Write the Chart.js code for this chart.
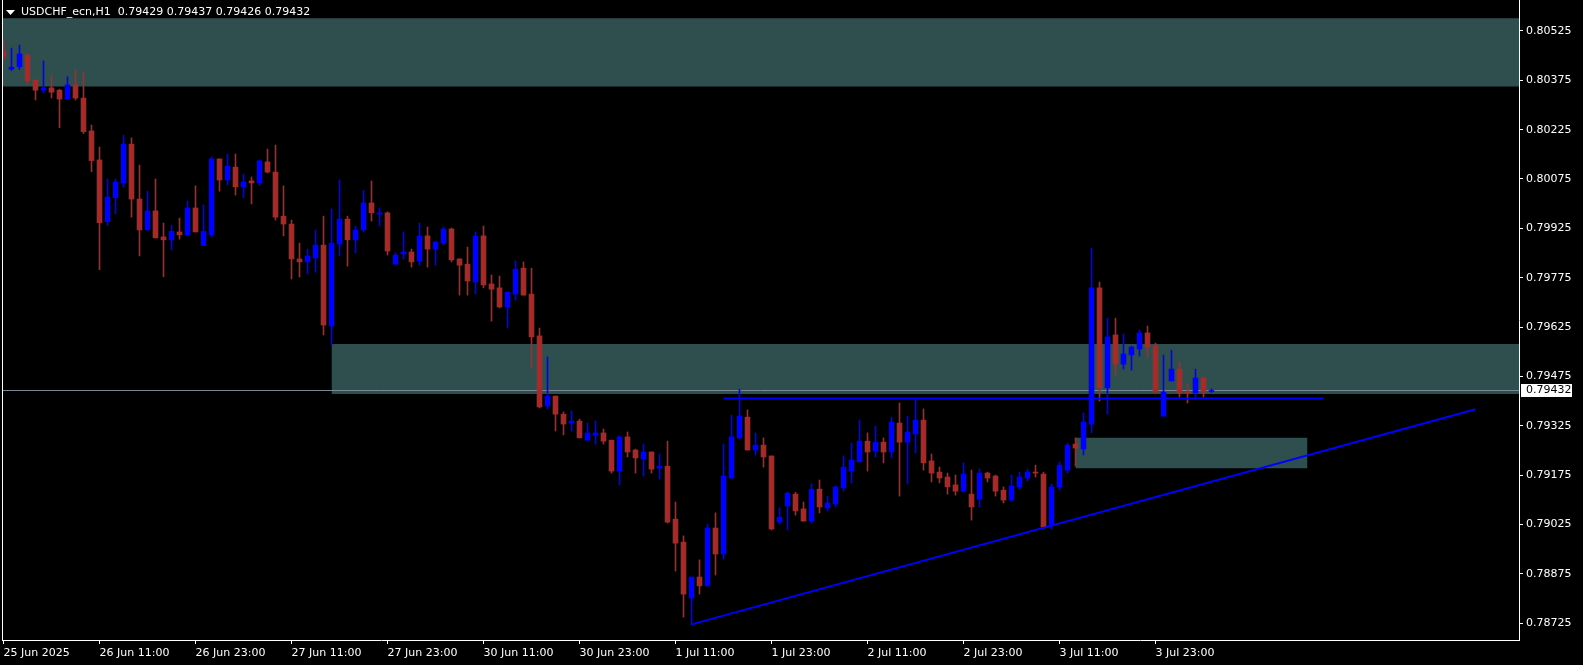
<!DOCTYPE html>
<html>
<head>
<meta charset="utf-8">
<title>USDCHF_ecn,H1</title>
<script src="https://cdn.jsdelivr.net/npm/chart.js@4/dist/chart.umd.min.js"></script>
<style>
  html, body { margin: 0; padding: 0; background: #000; overflow: hidden; }
  canvas { display: block; }
</style>
</head>
<body>
<canvas id="chart" width="1583" height="665"></canvas>
<script>
const symbolTitle = 'USDCHF_ecn,H1';

// bar index of each time label (H1 bars, weekend skipped)
const timeTickBars = [0, 12, 24, 36, 48, 60, 72, 84, 96, 108, 120, 132, 144];
const timeLabels = ['25 Jun 2025', '26 Jun 11:00', '26 Jun 23:00', '27 Jun 11:00', '27 Jun 23:00',
  '30 Jun 11:00', '30 Jun 23:00', '1 Jul 11:00', '1 Jul 23:00', '2 Jul 11:00', '2 Jul 23:00',
  '3 Jul 11:00', '3 Jul 23:00'];

const priceTicks = [0.80525, 0.80375, 0.80225, 0.80075, 0.79925, 0.79775, 0.79625,
  0.79475, 0.79325, 0.79175, 0.79025, 0.78875, 0.78725];

const opens = [
  0.80464, 0.80409, 0.80416, 0.80452, 0.80376, 0.80345, 0.80352, 0.80345, 0.80318, 0.80361, 0.80321, 0.80221,
  0.80133, 0.79945, 0.80018, 0.80063, 0.80181, 0.80014, 0.79921, 0.79978, 0.79899, 0.79890, 0.79914, 0.79905,
  0.79987, 0.79873, 0.79905, 0.80136, 0.80072, 0.80111, 0.80051, 0.80069, 0.80063, 0.80127, 0.80096, 0.79962,
  0.79938, 0.79832, 0.79823, 0.79835, 0.79874, 0.79628, 0.79877, 0.79953, 0.79890, 0.79920, 0.80002, 0.79968,
  0.79972, 0.79816, 0.79847, 0.79853, 0.79826, 0.79902, 0.79862, 0.79880, 0.79923, 0.79832, 0.79816, 0.79762,
  0.79902, 0.79756, 0.79744, 0.79686, 0.79725, 0.79804, 0.79725, 0.79598, 0.79385, 0.79415, 0.79360, 0.79333,
  0.79339, 0.79281, 0.79297, 0.79303, 0.79281, 0.79187, 0.79291, 0.79251, 0.79224, 0.79245, 0.79196, 0.79202,
  0.79041, 0.78971, 0.78801, 0.78865, 0.78838, 0.79014, 0.78935, 0.79166, 0.79288, 0.79351, 0.79251, 0.79266,
  0.79233, 0.79032, 0.79081, 0.79117, 0.79072, 0.79035, 0.79132, 0.79075, 0.79087, 0.79136, 0.79187, 0.79215,
  0.79278, 0.79248, 0.79275, 0.79245, 0.79333, 0.79275, 0.79300, 0.79342, 0.79218, 0.79184, 0.79169, 0.79145,
  0.79126, 0.79117, 0.79102, 0.79181, 0.79172, 0.79129, 0.79099, 0.79139, 0.79166, 0.79184, 0.79178, 0.79023,
  0.79139, 0.79190, 0.79269, 0.79254, 0.79330, 0.79744, 0.79440, 0.79601, 0.79512, 0.79540, 0.79558, 0.79607,
  0.79567, 0.79354, 0.79461, 0.79497, 0.79427, 0.79424, 0.79470, 0.79429
];
const highs = [
  0.80498, 0.80473, 0.80482, 0.80457, 0.80376, 0.80434, 0.80389, 0.80348, 0.80386, 0.80408, 0.80401, 0.80239,
  0.80172, 0.80075, 0.80075, 0.80208, 0.80200, 0.80117, 0.80038, 0.80075, 0.79941, 0.79934, 0.79956, 0.80008,
  0.80054, 0.79996, 0.80142, 0.80136, 0.80151, 0.80151, 0.80090, 0.80081, 0.80133, 0.80166, 0.80178, 0.80054,
  0.79950, 0.79880, 0.79862, 0.79920, 0.79962, 0.79984, 0.80072, 0.79962, 0.79932, 0.80041, 0.80069, 0.79987,
  0.79975, 0.79850, 0.79914, 0.79862, 0.79941, 0.79929, 0.79886, 0.79929, 0.79926, 0.79832, 0.79868, 0.79914,
  0.79932, 0.79783, 0.79780, 0.79731, 0.79826, 0.79823, 0.79804, 0.79622, 0.79534, 0.79415, 0.79367, 0.79370,
  0.79345, 0.79333, 0.79339, 0.79315, 0.79281, 0.79294, 0.79306, 0.79254, 0.79269, 0.79245, 0.79239, 0.79278,
  0.79093, 0.78990, 0.78865, 0.78917, 0.79026, 0.79060, 0.79269, 0.79357, 0.79436, 0.79373, 0.79303, 0.79288,
  0.79233, 0.79075, 0.79123, 0.79123, 0.79093, 0.79148, 0.79160, 0.79111, 0.79142, 0.79233, 0.79272, 0.79342,
  0.79303, 0.79324, 0.79288, 0.79351, 0.79394, 0.79354, 0.79403, 0.79376, 0.79239, 0.79199, 0.79181, 0.79175,
  0.79212, 0.79190, 0.79193, 0.79184, 0.79175, 0.79139, 0.79175, 0.79184, 0.79193, 0.79205, 0.79184, 0.79148,
  0.79215, 0.79272, 0.79288, 0.79364, 0.79865, 0.79762, 0.79652, 0.79652, 0.79604, 0.79567, 0.79616, 0.79628,
  0.79576, 0.79540, 0.79555, 0.79519, 0.79452, 0.79497, 0.79473, 0.79437
];
const lows = [
  0.80438, 0.80404, 0.80408, 0.80363, 0.80315, 0.80337, 0.80321, 0.80231, 0.80318, 0.80315, 0.80213, 0.80097,
  0.79799, 0.79933, 0.79969, 0.80051, 0.79959, 0.79841, 0.79917, 0.79896, 0.79778, 0.79859, 0.79892, 0.79903,
  0.79914, 0.79872, 0.79899, 0.80038, 0.80057, 0.80026, 0.80018, 0.79999, 0.80055, 0.80093, 0.79950, 0.79902,
  0.79771, 0.79777, 0.79786, 0.79792, 0.79601, 0.79570, 0.79841, 0.79810, 0.79850, 0.79914, 0.79947, 0.79932,
  0.79844, 0.79816, 0.79832, 0.79807, 0.79813, 0.79807, 0.79813, 0.79874, 0.79823, 0.79722, 0.79722, 0.79725,
  0.79744, 0.79643, 0.79683, 0.79622, 0.79707, 0.79722, 0.79500, 0.79379, 0.79376, 0.79309, 0.79297, 0.79309,
  0.79288, 0.79281, 0.79269, 0.79269, 0.79181, 0.79145, 0.79230, 0.79181, 0.79172, 0.79181, 0.79163, 0.79029,
  0.78883, 0.78743, 0.78721, 0.78813, 0.78838, 0.78871, 0.78920, 0.79163, 0.79284, 0.79251, 0.79236, 0.79199,
  0.79008, 0.79026, 0.79008, 0.79053, 0.79035, 0.79029, 0.79060, 0.79066, 0.79078, 0.79126, 0.79151, 0.79215,
  0.79187, 0.79230, 0.79212, 0.79227, 0.79111, 0.79148, 0.79242, 0.79190, 0.79154, 0.79151, 0.79117, 0.79114,
  0.79123, 0.79038, 0.79078, 0.79154, 0.79111, 0.79090, 0.79096, 0.79132, 0.79157, 0.79169, 0.79014, 0.79011,
  0.79129, 0.79181, 0.79202, 0.79236, 0.79303, 0.79400, 0.79360, 0.79479, 0.79497, 0.79494, 0.79537, 0.79534,
  0.79427, 0.79354, 0.79461, 0.79412, 0.79394, 0.79412, 0.79412, 0.79426
];
const closes = [
  0.80447, 0.80415, 0.80455, 0.80373, 0.80345, 0.80352, 0.80339, 0.80318, 0.80361, 0.80321, 0.80219, 0.80131,
  0.79942, 0.80020, 0.80066, 0.80181, 0.80014, 0.79920, 0.79978, 0.79896, 0.79890, 0.79916, 0.79905, 0.79987,
  0.79914, 0.79916, 0.80136, 0.80072, 0.80114, 0.80051, 0.80066, 0.80063, 0.80130, 0.80096, 0.79959, 0.79938,
  0.79832, 0.79823, 0.79841, 0.79874, 0.79631, 0.79880, 0.79953, 0.79890, 0.79920, 0.80002, 0.79972, 0.79972,
  0.79856, 0.79844, 0.79853, 0.79823, 0.79902, 0.79862, 0.79883, 0.79923, 0.79829, 0.79813, 0.79765, 0.79902,
  0.79753, 0.79740, 0.79686, 0.79731, 0.79801, 0.79722, 0.79595, 0.79382, 0.79415, 0.79360, 0.79330, 0.79339,
  0.79288, 0.79303, 0.79303, 0.79278, 0.79187, 0.79291, 0.79245, 0.79227, 0.79245, 0.79193, 0.79202, 0.79032,
  0.78968, 0.78813, 0.78865, 0.78838, 0.79014, 0.78935, 0.79172, 0.79291, 0.79354, 0.79251, 0.79266, 0.79230,
  0.79011, 0.79047, 0.79120, 0.79066, 0.79035, 0.79132, 0.79078, 0.79090, 0.79139, 0.79199, 0.79221, 0.79278,
  0.79245, 0.79275, 0.79245, 0.79336, 0.79275, 0.79306, 0.79342, 0.79212, 0.79181, 0.79166, 0.79139, 0.79126,
  0.79178, 0.79078, 0.79181, 0.79166, 0.79126, 0.79099, 0.79142, 0.79169, 0.79184, 0.79181, 0.79017, 0.79139,
  0.79205, 0.79266, 0.79257, 0.79336, 0.79744, 0.79440, 0.79595, 0.79512, 0.79543, 0.79564, 0.79607, 0.79564,
  0.79427, 0.79427, 0.79497, 0.79424, 0.79424, 0.79470, 0.79427, 0.79432
];

// supply/demand boxes (bar index from..to, price top/bottom)
const zoneStart = [-5, 41, 134];
const zoneEnd = [200, 200, 163];
const zoneHigh = [0.80564, 0.79573, 0.79288];
const zoneLow = [0.80356, 0.79421, 0.79196];

// trendlines
const trendFrom = [90, 86];
const trendTo = [165, 184];
const trendFromPrice = [0.79408, 0.78721];
const trendToPrice = [0.79408, 0.79375];

const BULL = '#0000ff';
const BEAR = '#a52a2a';
const ZONE = '#2f4f4f';
const last = closes.length - 1;

const barIdx = closes.map((c, i) => i);
const candleColor = barIdx.map(i => closes[i] >= opens[i] ? BULL : BEAR);

const datasets = [];

zoneStart.forEach((s, k) => {
  datasets.push({
    type: 'line', order: 6, clip: 0,
    data: [{x: s, y: zoneHigh[k]}, {x: zoneEnd[k], y: zoneHigh[k]}],
    borderColor: 'rgba(0,0,0,0)', backgroundColor: ZONE, pointRadius: 0, fill: '+1'
  });
  datasets.push({
    type: 'line', order: 6, clip: 0,
    data: [{x: s, y: zoneLow[k]}, {x: zoneEnd[k], y: zoneLow[k]}],
    borderColor: 'rgba(0,0,0,0)', pointRadius: 0, fill: false
  });
});

// bid line
datasets.push({
  type: 'line', order: 4, clip: 0,
  data: [{x: -5, y: closes[last]}, {x: 200, y: closes[last]}],
  borderColor: '#778899', borderWidth: 1, pointRadius: 0, fill: false
});

// wicks then bodies
datasets.push({
  type: 'bar', order: 2, grouped: false, barThickness: 1,
  data: barIdx.map(i => ({x: i, y: [lows[i], highs[i]]})),
  backgroundColor: candleColor
});
datasets.push({
  type: 'bar', order: 1, grouped: false, barThickness: 5, minBarLength: 1,
  data: barIdx.map(i => ({x: i, y: [opens[i], closes[i]]})),
  backgroundColor: candleColor
});

trendFrom.forEach((f, k) => {
  datasets.push({
    type: 'line', order: 0, clip: 0,
    data: [{x: f, y: trendFromPrice[k]}, {x: trendTo[k], y: trendToPrice[k]}],
    borderColor: '#0000ff', borderWidth: 2, pointRadius: 0, fill: false
  });
});

const font = {family: 'DejaVu Sans', size: 11};

const mtFrame = {
  id: 'mtFrame',
  beforeDraw(chart) {
    const ctx = chart.ctx;
    ctx.save();
    ctx.fillStyle = '#000';
    ctx.fillRect(0, 0, chart.width, chart.height);
    ctx.restore();
  },
  afterDraw(chart) {
    const ctx = chart.ctx;
    const area = chart.chartArea;
    const y = chart.scales.y;
    ctx.save();
    // left frame line
    ctx.strokeStyle = '#fff';
    ctx.lineWidth = 1;
    ctx.beginPath();
    ctx.moveTo(area.left + 0.5, 0);
    ctx.lineTo(area.left + 0.5, area.bottom);
    ctx.stroke();

    // title
    ctx.fillStyle = '#fff';
    ctx.beginPath();
    ctx.moveTo(6, 10);
    ctx.lineTo(15, 10);
    ctx.lineTo(10.5, 15);
    ctx.closePath();
    ctx.fill();
    ctx.font = '11px "DejaVu Sans"';
    ctx.textBaseline = 'middle';
    ctx.textAlign = 'left';
    const ohlc = [opens[last], highs[last], lows[last], closes[last]].map(v => v.toFixed(5)).join(' ');
    ctx.fillText(symbolTitle + '  ' + ohlc, 21, 12.5);

    // current price box
    const py = Math.round(y.getPixelForValue(closes[last]));
    ctx.fillStyle = '#fff';
    ctx.fillRect(area.right + 2, py - 6, 51, 13);
    ctx.fillStyle = '#000';
    ctx.fillText(closes[last].toFixed(5), area.right + 7, py + 0.5);
    ctx.restore();
  }
};

new Chart(document.getElementById('chart'), {
  type: 'bar',
  data: {datasets: datasets},
  options: {
    responsive: false,
    animation: false,
    devicePixelRatio: 1,
    events: [],
    layout: {padding: {left: 2, top: 0, right: 0, bottom: 0}},
    plugins: {legend: {display: false}, tooltip: {enabled: false}},
    scales: {
      x: {
        type: 'linear', position: 'bottom', offset: false,
        min: -0.1875, max: 189.4375,
        grid: {display: true, drawOnChartArea: false, drawTicks: true, tickLength: 4, color: '#fff', offset: false},
        border: {display: true, color: '#fff'},
        ticks: {
          color: '#fff', font: font, align: 'start', padding: 3,
          maxRotation: 0, autoSkip: false,
          callback: (v, i) => timeLabels[i]
        },
        afterBuildTicks: s => { s.ticks = timeTickBars.map(v => ({value: v})); },
        afterFit: s => { s.height = 25; s.paddingLeft = 0; s.paddingRight = 0; }
      },
      y: {
        type: 'linear', position: 'right', bounds: 'data',
        min: 0.7867352, max: 0.8061912,
        grid: {display: true, drawOnChartArea: false, drawTicks: true, tickLength: 4, color: '#fff'},
        border: {display: true, color: '#fff'},
        ticks: {color: '#fff', font: font, padding: 3, autoSkip: false, callback: v => v.toFixed(5)},
        afterBuildTicks: s => { s.ticks = priceTicks.map(v => ({value: v})); },
        afterFit: s => { s.width = 64; s.paddingTop = 0; s.paddingBottom = 0; }
      }
    }
  },
  plugins: [mtFrame]
});
</script>
</body>
</html>
